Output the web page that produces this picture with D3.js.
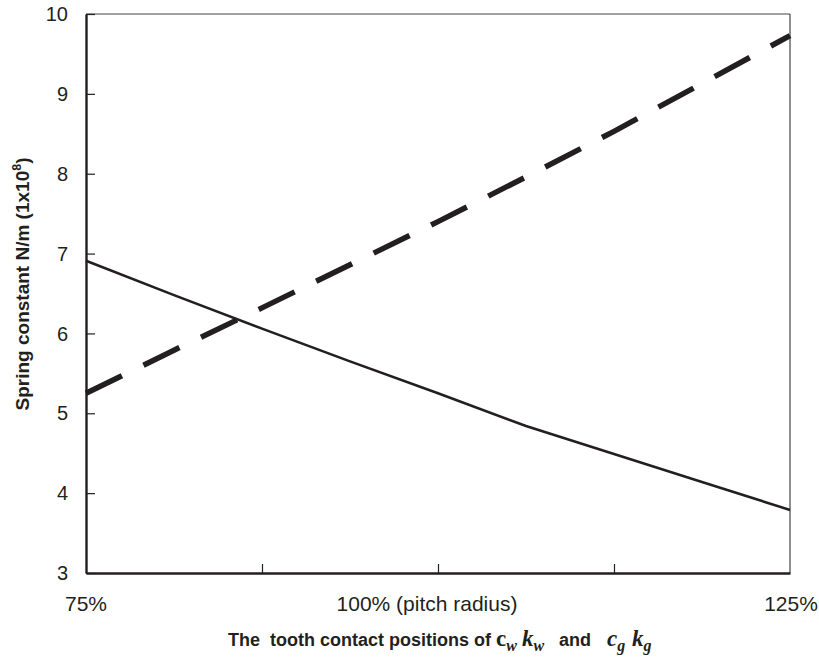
<!DOCTYPE html>
<html>
<head>
<meta charset="utf-8">
<script src="https://cdn.jsdelivr.net/npm/d3@7"></script>
<style>
  html, body { margin: 0; padding: 0; background: #fff; }
  svg { display: block; }
</style>
</head>
<body>
<svg id="chart" width="819" height="657"></svg>
<script>
// Contact position along the tooth, as % of pitch radius
const positions = [75, 81.25, 87.5, 93.75, 100, 106.25, 112.5, 118.75, 125];
// Spring constant (x1e8 N/m), solid curve
const solidValues = [6.91, 6.48, 6.06, 5.65, 5.25, 4.84, 4.49, 4.14, 3.79];
// Spring constant (x1e8 N/m), dashed curve
const dashedValues = [5.25, 5.79, 6.32, 6.86, 7.40, 7.96, 8.53, 9.13, 9.73];

const yTicks = [3, 4, 5, 6, 7, 8, 9, 10];
const xTicks = [87.5, 100, 112.5];
const xLabelValues = [75, 100, 125];
const xLabelTexts = ["75%", "100% (pitch radius)", "125%"];

(function () {
const ink = "#231f20";
const sans = "Liberation Sans, Arial, sans-serif";
const serif = "Liberation Serif, Times New Roman, serif";
const svg = d3.select("#chart");
const plot = { left: 86, right: 790, top: 14, bottom: 573 };

const x = d3.scaleLinear().domain([75, 125]).range([plot.left, plot.right]);
const y = d3.scaleLinear().domain([3, 10]).range([plot.bottom, plot.top]);

// Frame: heavier left/bottom axes, light top/right border
svg.append("line").attr("x1", plot.left).attr("x2", plot.right).attr("y1", plot.top).attr("y2", plot.top)
  .attr("stroke", "#444").attr("stroke-width", 1.2);
svg.append("line").attr("x1", plot.right).attr("x2", plot.right).attr("y1", plot.top).attr("y2", plot.bottom)
  .attr("stroke", "#444").attr("stroke-width", 1.2);

// Y axis with inward ticks
const yAxis = d3.axisRight(y).tickValues(yTicks).tickSize(9).tickSizeOuter(0).tickFormat("");
const gy = svg.append("g").attr("transform", `translate(${plot.left},0)`).call(yAxis);
gy.select(".domain").attr("stroke", ink).attr("stroke-width", 2.4);
gy.selectAll(".tick line").attr("stroke", ink).attr("stroke-width", 1.2);

// Y tick labels
svg.append("g").selectAll("text").data(yTicks).join("text")
  .attr("x", 68).attr("y", d => y(d)).attr("dy", "0.36em")
  .attr("text-anchor", "end")
  .attr("font-family", sans)
  .attr("font-size", 20).attr("fill", ink)
  .text(d => d);

// X axis with inward ticks
const xAxis = d3.axisTop(x).tickValues(xTicks).tickSize(9).tickSizeOuter(0).tickFormat("");
const gx = svg.append("g").attr("transform", `translate(0,${plot.bottom})`).call(xAxis);
gx.select(".domain").attr("stroke", ink).attr("stroke-width", 2.4);
gx.selectAll(".tick line").attr("stroke", ink).attr("stroke-width", 1.2);

// X tick labels; the long centre label sits slightly left of its tick
const labelShift = [0, -11, 1];
svg.append("g").selectAll("text").data(xLabelValues).join("text")
  .attr("x", (d, i) => x(d) + labelShift[i]).attr("y", 611)
  .attr("text-anchor", "middle")
  .attr("font-family", sans)
  .attr("font-size", 21).attr("fill", ink)
  .text((d, i) => xLabelTexts[i]);

// Curves
const line = d3.line().x((d, i) => x(positions[i])).y(d => y(d));

svg.append("path").datum(solidValues)
  .attr("d", line).attr("fill", "none")
  .attr("stroke", ink).attr("stroke-width", 2.6);

svg.append("path").datum(dashedValues)
  .attr("d", line).attr("fill", "none")
  .attr("stroke", ink).attr("stroke-width", 5.5)
  .attr("stroke-dasharray", "40,24");

// Y axis title
const yTitle = svg.append("text")
  .attr("transform", "translate(29,284) rotate(-90)")
  .attr("text-anchor", "middle")
  .attr("font-family", sans)
  .attr("font-weight", "bold").attr("font-size", 19).attr("fill", ink);
yTitle.append("tspan").text("Spring constant N/m (1x10");
yTitle.append("tspan").attr("font-size", 12.5).attr("dy", -8).text("8");
yTitle.append("tspan").attr("dy", 8).text(")");

// X axis title with serif symbols and subscripts
const baseY = 646;
const xTitle = svg.append("text")
  .attr("x", 228).attr("y", baseY)
  .attr("text-anchor", "start")
  .attr("font-family", sans)
  .attr("font-weight", "bold").attr("font-size", 18).attr("fill", ink)
  .attr("xml:space", "preserve");
// symbol with subscript, placed at a given x
const symbol = (px, main, sub, upright) => {
  const m = xTitle.append("tspan").attr("x", px).attr("y", baseY)
    .attr("font-family", serif).attr("font-size", 23).text(main);
  if (!upright) m.attr("font-style", "italic");
  xTitle.append("tspan").attr("y", baseY + 5)
    .attr("font-family", serif).attr("font-style", "italic").attr("font-size", 16).text(sub);
};
xTitle.append("tspan").text("The  tooth contact positions of");
symbol(496, "c", "w", true);
symbol(522, "k", "w", false);
xTitle.append("tspan").attr("x", 559).attr("y", baseY).text("and");
symbol(607, "c", "g", false);
symbol(632, "k", "g", false);
})();
</script>
</body>
</html>
